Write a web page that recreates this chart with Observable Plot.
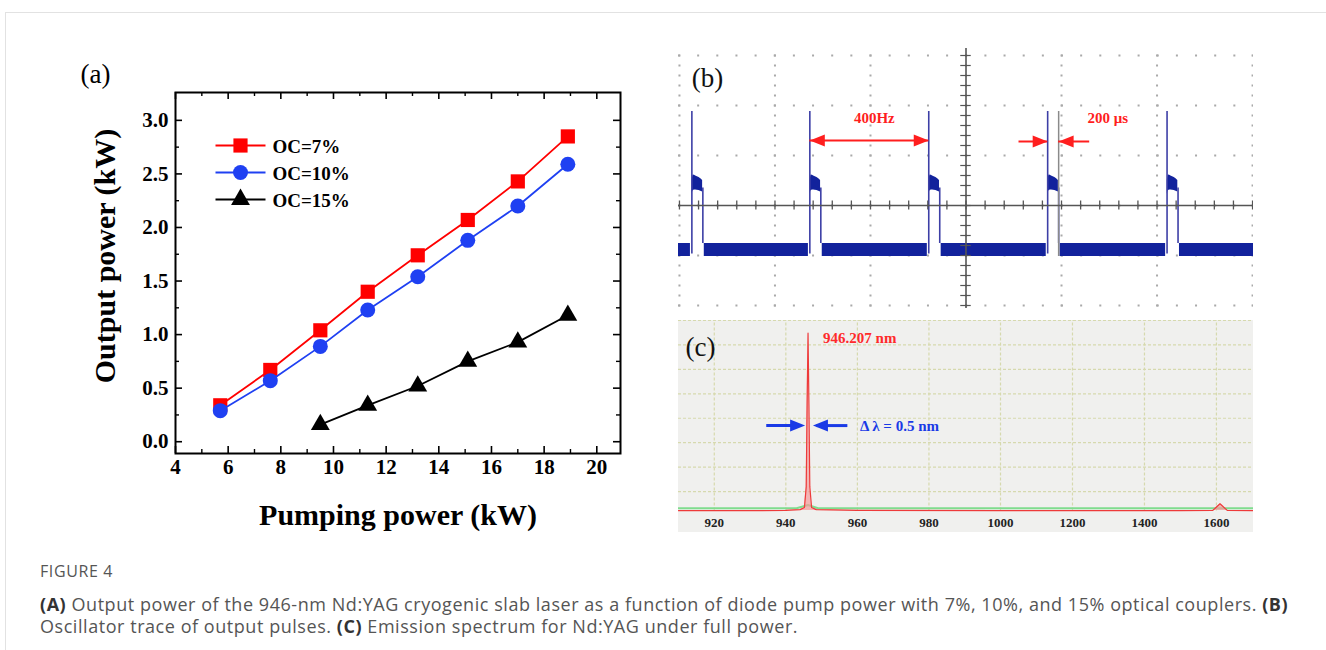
<!DOCTYPE html>
<html>
<head>
<meta charset="utf-8">
<script src="https://cdn.jsdelivr.net/npm/d3@7"></script>
<script src="https://cdn.jsdelivr.net/npm/@observablehq/plot@0.6"></script>
<style>
  html, body { margin: 0; padding: 0; background: #fff; }
  #page { position: relative; width: 1326px; height: 650px; overflow: hidden; background: #fff; }
  #frame { position: absolute; left: 5px; top: 12px; right: 0; bottom: 0; border-top: 1px solid #e2e2e2; border-left: 1px solid #e2e2e2; }
  .panel { position: absolute; }
  .panel svg { display: block; }
  #fig { position: absolute; left: 40px; top: 561px; line-height: 20px; font-size: 16px; letter-spacing: 0.6px; font-family: "Open Sans", "Noto Sans", sans-serif; color: #555; }
  #cap { position: absolute; left: 40px; top: 593px; width: 1286px; line-height: 22px; font-size: 18px; letter-spacing: 0.55px; font-family: "Open Sans", "Noto Sans", sans-serif; color: #555; white-space: nowrap; }
  #cap b { color: #333; font-weight: 700; }
</style>
</head>
<body>
<div id="page">
  <div id="frame"></div>
  <div id="pa" class="panel" style="left:0px;top:40px"></div>
  <div id="pb" class="panel" style="left:678px;top:48px"></div>
  <div id="pc" class="panel" style="left:678px;top:320px"></div>
  <div id="fig">FIGURE 4</div>
  <div id="cap"><b>(A)</b> Output power of the 946-nm Nd:YAG cryogenic slab laser as a function of diode pump power with 7%, 10%, and 15% optical couplers. <b>(B)</b><br>Oscillator trace of output pulses. <b>(C)</b> Emission spectrum for Nd:YAG under full power.</div>
</div>
<script>
// ---------------- Panel (a) data ----------------
const seriesNames = ["OC=7%", "OC=10%", "OC=15%"];
const seriesColors = ["#ff0000", "#1f40f2", "#000000"];
const seriesSymbols = ["square", "circle", "triangle"];
const pump7 = [5.7, 7.6, 9.5, 11.3, 13.2, 15.1, 17.0, 18.9];
const out7 = [0.34, 0.67, 1.04, 1.40, 1.74, 2.07, 2.43, 2.85];
const pump10 = [5.7, 7.6, 9.5, 11.3, 13.2, 15.1, 17.0, 18.9];
const out10 = [0.29, 0.57, 0.89, 1.23, 1.54, 1.88, 2.20, 2.59];
const pump15 = [9.5, 11.3, 13.2, 15.1, 17.0, 18.9];
const out15 = [0.16, 0.34, 0.52, 0.75, 0.93, 1.18];
const xTicksA = [4, 6, 8, 10, 12, 14, 16, 18, 20];
const xMinorA = [5, 7, 9, 11, 13, 15, 17, 19];
const yTicksA = [0, 0.5, 1.0, 1.5, 2.0, 2.5, 3.0];
const yMinorA = [0.25, 0.75, 1.25, 1.75, 2.25, 2.75];

// ---------------- Panel (b) data (ms, divisions) ----------------
const pulseStarts = [-5.74, -3.27, -0.78, 1.71, 4.21];
const pulseWidth = 0.23;
const pulsePeak = 1.88;
const baseLow = -1.02, baseHigh = -0.76;
const plateauDt = [0.005, 0.03, 0.08, 0.15, 0.225];
const plateauLo = [0.22, 0.30, 0.31, 0.30, 0.27];
const plateauHi = [0.50, 0.61, 0.59, 0.56, 0.50];

// ---------------- Panel (c) data (nm, a.u.) ----------------
const wavelength = [910, 930, 940, 944, 945.2, 945.7, 945.95, 946.207, 946.45, 946.7, 947.2, 948.5, 960, 1000, 1200, 1500, 1590, 1610, 1630, 1703];
const intensity  = [0.22, 0.22, 0.23, 0.26, 0.35, 1.2, 4.6, 7.48, 4.6, 1.2, 0.35, 0.26, 0.23, 0.22, 0.22, 0.22, 0.23, 0.5, 0.23, 0.22];
const greenWl = [910, 943, 946.2, 949, 1703];
const greenI  = [0.32, 0.32, 0.45, 0.32, 0.32];
const specTicks = [920, 940, 960, 980, 1000, 1200, 1400, 1600];
const peakWl = 946.207, fwhm = 0.5;

// ---------------- helpers ----------------
const serif = "'Liberation Serif', 'Times New Roman', serif";
const triRight = {draw(c) { c.moveTo(0, 0); c.lineTo(-15, -6); c.lineTo(-15, 6); c.closePath(); }};
const triLeft  = {draw(c) { c.moveTo(0, 0); c.lineTo(15, -6); c.lineTo(15, 6); c.closePath(); }};
const hline    = {draw(c) { c.moveTo(-25, 0); c.lineTo(25, 0); }};
const mid = {textAnchor: "middle", lineAnchor: "middle"};

// ---------------- Panel (a) ----------------
const seriesRows = [
  pump7.map((p, i) => ({pump: p, out: out7[i]})),
  pump10.map((p, i) => ({pump: p, out: out10[i]})),
  pump15.map((p, i) => ({pump: p, out: out15[i]}))
];
const symR = [8, 7.5, 7];
const PW = 445, PH = 361;
const marksA = [
  Plot.axisX({ticks: xTicksA, tickSize: 0, tickPadding: 6, tickFormat: d => String(d), label: null, fontSize: 21, fontWeight: "bold"}),
  Plot.axisY({ticks: yTicksA, tickSize: 0, tickPadding: 7, tickFormat: d => d.toFixed(1), label: null, fontSize: 21, fontWeight: "bold"}),
  Plot.ruleX(xTicksA, {x: d => d, insetTop: PH - 7, stroke: "#000", strokeWidth: 1.6}),
  Plot.ruleX(xTicksA, {x: d => d, insetBottom: PH - 7, stroke: "#000", strokeWidth: 1.6}),
  Plot.ruleX(xMinorA, {x: d => d, insetTop: PH - 4, stroke: "#000", strokeWidth: 1.4}),
  Plot.ruleX(xMinorA, {x: d => d, insetBottom: PH - 4, stroke: "#000", strokeWidth: 1.4}),
  Plot.ruleY(yTicksA, {y: d => d, insetRight: PW - 7, stroke: "#000", strokeWidth: 1.6}),
  Plot.ruleY(yTicksA, {y: d => d, insetLeft: PW - 7, stroke: "#000", strokeWidth: 1.6}),
  Plot.ruleY(yMinorA, {y: d => d, insetRight: PW - 4, stroke: "#000", strokeWidth: 1.4}),
  Plot.ruleY(yMinorA, {y: d => d, insetLeft: PW - 4, stroke: "#000", strokeWidth: 1.4}),
  Plot.frame({stroke: "#000", strokeWidth: 2})
];
seriesRows.forEach((rows, i) => {
  marksA.push(Plot.line(rows, {x: "pump", y: "out", stroke: seriesColors[i], strokeWidth: 1.8}));
  marksA.push(Plot.dot(rows, {x: "pump", y: "out", symbol: seriesSymbols[i], r: symR[i], fill: seriesColors[i], stroke: "none"}));
  const dy = 53 + 27 * i;
  marksA.push(Plot.dot([0], {frameAnchor: "top-left", dx: 65, dy, symbol: hline, fill: "none", stroke: seriesColors[i], strokeWidth: 1.8}));
  marksA.push(Plot.dot([0], {frameAnchor: "top-left", dx: 65, dy, symbol: seriesSymbols[i], r: symR[i], fill: seriesColors[i], stroke: "none"}));
  marksA.push(Plot.text([seriesNames[i]], {text: d => d, frameAnchor: "top-left", dx: 97, dy: dy + 1, textAnchor: "start", lineAnchor: "middle", fontSize: 19, fontWeight: "bold"}));
});
marksA.push(Plot.text(["Output power (kW)"], {text: d => d, frameAnchor: "left", dx: -70, dy: -17, rotate: -90, ...mid, fontSize: 30, fontWeight: "bold"}));
marksA.push(Plot.text(["Pumping power (kW)"], {text: d => d, frameAnchor: "bottom", dy: 62, ...mid, fontSize: 30, fontWeight: "bold"}));
marksA.push(Plot.text(["(a)"], {text: d => d, frameAnchor: "top-left", dx: -80, dy: -18, ...mid, fontSize: 27, fontWeight: "normal"}));

const plotA = Plot.plot({
  width: 660, height: 510,
  marginLeft: 175, marginRight: 40, marginTop: 52, marginBottom: 97,
  x: {domain: [4, 20.9]},
  y: {domain: [-0.11, 3.26]},
  style: {fontFamily: serif, fontWeight: "bold", fontSize: "19px", color: "#000", background: "transparent", overflow: "visible"},
  marks: marksA
});
document.getElementById("pa").appendChild(plotA);

// ---------------- Panel (b) ----------------
const xMinB = -6.02, xMaxB = 6.02;
const traceColor = "#12229c", spikeColor = "#3d3fa6";
const segs = [];
for (let i = 0; i <= pulseStarts.length; i++) {
  const a = i === 0 ? xMinB : pulseStarts[i - 1] + pulseWidth + 0.03;
  const b = i < pulseStarts.length ? pulseStarts[i] - 0.03 : xMaxB;
  segs.push({a, b});
}
const plateauRows = [];
pulseStarts.forEach((t0, p) => plateauDt.forEach((dt, k) => plateauRows.push({p, t: t0 + dt, lo: plateauLo[k], hi: plateauHi[k]})));
const red = "#ff1e1e";
const plotB = Plot.plot({
  width: 575, height: 260, margin: 0,
  x: {domain: [xMinB, xMaxB], axis: null},
  y: {domain: [-2.06, 3.14], axis: null},
  style: {fontFamily: serif, background: "#fff"},
  marks: [
    Plot.ruleY(d3.range(-2, 4, 1), {y: d => d, stroke: "#a9a9a9", strokeWidth: 2, strokeDasharray: "2,17.15"}),
    Plot.ruleX(d3.range(-6, 7, 2), {x: d => d, stroke: "#a9a9a9", strokeWidth: 2, strokeDasharray: "2,8", strokeDashoffset: 3.5}),
    Plot.rect(segs, {x1: "a", x2: "b", y1: baseLow, y2: baseHigh, fill: traceColor}),
    Plot.areaY(plateauRows, {x: "t", y1: "lo", y2: "hi", z: "p", fill: traceColor, curve: "monotone-x"}),
    Plot.ruleX(pulseStarts, {x: d => d, y1: baseLow + 0.05, y2: pulsePeak, stroke: spikeColor, strokeWidth: 1.6}),
    Plot.ruleX(pulseStarts, {x: d => d + pulseWidth, y1: baseHigh, y2: 0.35, stroke: spikeColor, strokeWidth: 1.6}),
    Plot.ruleX([pulseStarts[3]], {x: d => d + pulseWidth, y1: baseLow, y2: pulsePeak, stroke: "#8a8a8a", strokeWidth: 1.5}),
    Plot.ruleY([0], {y: d => d, stroke: "#555", strokeWidth: 1.6}),
    Plot.ruleX([0], {x: d => d, stroke: "#555", strokeWidth: 1.6}),
    Plot.ruleX(d3.range(-6, 6.01, 0.4), {x: d => d, y1: -0.09, y2: 0.09, stroke: "#555", strokeWidth: 1.3}),
    Plot.ruleY(d3.range(-2, 3.15, 0.2), {y: d => d, x1: -0.11, x2: 0.11, stroke: "#555", strokeWidth: 1.2}),
    // annotations
    Plot.text(["(b)"], {text: d => d, frameAnchor: "top-left", dx: 29, dy: 30, ...mid, fontSize: 27, fill: "#111"}),
    Plot.ruleY([1.3], {x1: pulseStarts[1], x2: pulseStarts[2], stroke: red, strokeWidth: 2}),
    Plot.dot([pulseStarts[1]], {x: d => d, y: 1.3, symbol: triLeft, fill: red, stroke: "none"}),
    Plot.dot([pulseStarts[2]], {x: d => d, y: 1.3, symbol: triRight, fill: red, stroke: "none"}),
    Plot.text(["400Hz"], {text: d => d, x: (pulseStarts[1] + pulseStarts[2]) / 2, y: 1.74, dx: 5, fill: red, fontSize: 15, fontWeight: "bold"}),
    Plot.ruleY([1.28], {x1: pulseStarts[3] - 0.6, x2: pulseStarts[3], stroke: red, strokeWidth: 2}),
    Plot.dot([pulseStarts[3]], {x: d => d, y: 1.28, symbol: triRight, fill: red, stroke: "none"}),
    Plot.ruleY([1.28], {x1: pulseStarts[3] + pulseWidth, x2: pulseStarts[3] + pulseWidth + 0.65, stroke: red, strokeWidth: 2}),
    Plot.dot([pulseStarts[3] + pulseWidth], {x: d => d, y: 1.28, symbol: triLeft, fill: red, stroke: "none"}),
    Plot.text(["200 μs"], {text: d => d, x: 2.97, y: 1.74, fill: red, fontSize: 15, fontWeight: "bold"})
  ]
});
document.getElementById("pb").appendChild(plotB);

// ---------------- Panel (c) ----------------
const spec = wavelength.map((w, i) => ({w, i: intensity[i]}));
const green = greenWl.map((w, i) => ({w, i: greenI[i]}));
const blue = "#1a3ae6";
const gridC = "#d6d9ae";
const plotC = Plot.plot({
  width: 575, height: 212,
  marginLeft: 0, marginRight: 0, marginTop: 0, marginBottom: 16.5,
  x: {type: "linear", domain: [910, 1000, 1703], range: [0, 322, 575]},
  y: {domain: [0, 8], axis: null},
  style: {fontFamily: serif, background: "#f0f0ee", color: "#222"},
  marks: [
    Plot.ruleY(d3.range(1, 9), {y: d => d, stroke: gridC, strokeWidth: 1.2, strokeDasharray: "3,2"}),
    Plot.ruleX(specTicks, {x: d => d, y1: 0.2, y2: 8, stroke: gridC, strokeWidth: 1.2, strokeDasharray: "3,2"}),
    Plot.line(green, {x: "w", y: "i", stroke: "#7fdc8e", strokeWidth: 2}),
    Plot.areaY(spec, {x: "w", y1: intensity[0], y2: "i", fill: "#f39a9a", fillOpacity: 0.7}),
    Plot.line(spec, {x: "w", y: "i", stroke: "#ee3a3a", strokeWidth: 1.2}),
    Plot.axisX({ticks: specTicks, tickSize: 0, tickPadding: 2, tickFormat: d => String(d), label: null, fontSize: 13, fontWeight: "bold", fill: "#222"}),
    Plot.text(["(c)"], {text: d => d, frameAnchor: "top-left", dx: 22, dy: 27, ...mid, fontSize: 27, fill: "#111"}),
    Plot.text(["946.207 nm"], {text: d => d, x: peakWl, y: 7.27, dx: 15, textAnchor: "start", fill: "#ff2a2a", fontSize: 15, fontWeight: "bold"}),
    Plot.ruleY([3.7], {x1: 936.9, x2: peakWl - fwhm / 2, dx: -8, stroke: blue, strokeWidth: 3}),
    Plot.dot([peakWl - fwhm / 2], {x: d => d, y: 3.7, dx: -2, symbol: triRight, fill: blue, stroke: "none"}),
    Plot.ruleY([3.7], {x1: peakWl + fwhm / 2, x2: 955.1, dx: 8, stroke: blue, strokeWidth: 3}),
    Plot.dot([peakWl + fwhm / 2], {x: d => d, y: 3.7, dx: 4, symbol: triLeft, fill: blue, stroke: "none"}),
    Plot.text(["Δ λ = 0.5 nm"], {text: d => d, x: 960.7, y: 3.68, textAnchor: "start", fill: blue, fontSize: 15, fontWeight: "bold"})
  ]
});
document.getElementById("pc").appendChild(plotC);
</script>
</body>
</html>
